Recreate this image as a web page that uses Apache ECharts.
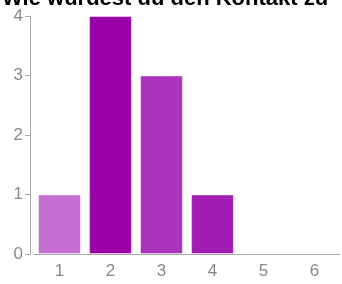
<!DOCTYPE html>
<html>
<head>
<meta charset="utf-8">
<script src="https://cdn.jsdelivr.net/npm/echarts@6/dist/echarts.min.js"></script>
<style>
    html, body { margin: 0; padding: 0; background: #fff; }
    #chart { width: 342px; height: 284px; }
</style>
</head>
<body>
<div id="chart"></div>
<script type="text/javascript">
    // Antworten 1-6
    var categories = ['1', '2', '3', '4', '5', '6'];
    var counts = [1, 4, 3, 1, 0, 0];
    var barColors = ['#c46fd1', '#9900a8', '#aa33bb', '#a11db3', '#a11db3', '#a11db3'];
    var yTicks = [0, 1, 2, 3, 4];

    var myChart = echarts.init(document.getElementById('chart'));

    var data = [];
    for (var i = 0; i < counts.length; i++) {
        data.push({
            value: counts[i],
            itemStyle: {
                color: barColors[i],
                // leere Balken ohne Rand
                borderWidth: counts[i] > 0 ? 1 : 0
            }
        });
    }

    var option = {
        animation: false,
        title: {
            text: 'Wie würdest du den Kontakt zu',
            left: 2,
            top: -12,
            padding: 0,
            textStyle: {
                fontFamily: 'Liberation Sans',
                fontWeight: 'bold',
                fontSize: 22,
                color: '#000'
            }
        },
        grid: {
            left: 34,
            right: 2,
            top: 16,
            bottom: 30,
            containLabel: false
        },
        xAxis: {
            type: 'category',
            data: categories,
            axisLine: { lineStyle: { color: '#aaa', width: 1 } },
            axisTick: { alignWithLabel: true, length: 5, lineStyle: { color: '#aaa' } },
            axisLabel: {
                color: '#888',
                fontFamily: 'Liberation Sans',
                fontSize: 17,
                margin: 9
            }
        },
        yAxis: {
            type: 'value',
            min: yTicks[0],
            max: yTicks[yTicks.length - 1],
            interval: 1,
            offset: 4,
            splitLine: { show: false },
            axisLine: { show: true, lineStyle: { color: '#aaa', width: 1 } },
            axisTick: { show: true, length: 5, lineStyle: { color: '#aaa' } },
            axisLabel: {
                color: '#888',
                fontFamily: 'Liberation Sans',
                fontSize: 17,
                margin: 7
            }
        },
        series: [{
            type: 'bar',
            data: data,
            barCategoryGap: '16%',
            itemStyle: {
                borderColor: 'rgba(255,255,255,0.45)'
            }
        }]
    };
    myChart.setOption(option);
</script>
</body>
</html>
